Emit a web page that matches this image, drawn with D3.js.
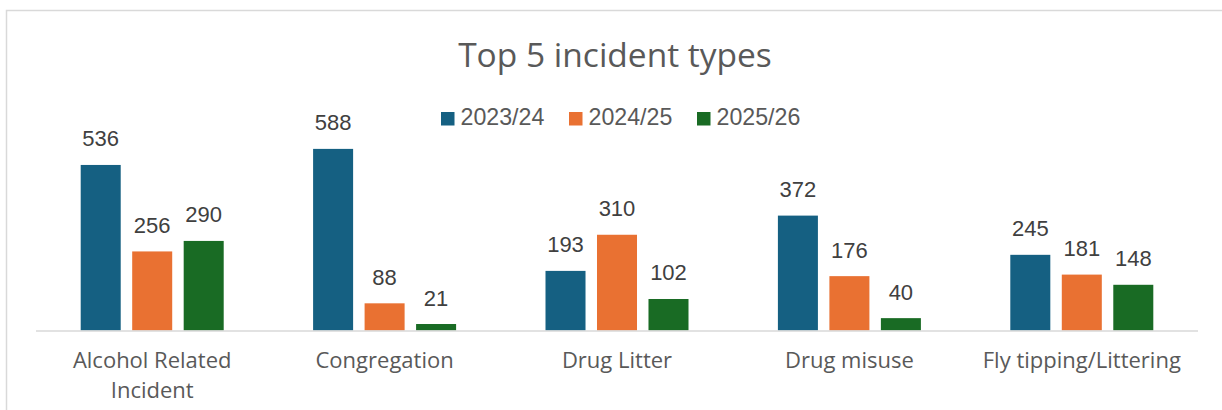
<!DOCTYPE html>
<html>
<head>
<meta charset="utf-8" />
<title>Top 5 incident types</title>
<script src="https://cdn.jsdelivr.net/npm/d3@7"></script>
<style>
  html, body { margin: 0; padding: 0; background: #fff; }
  svg { display: block; }
</style>
</head>
<body>
<svg width="1222" height="410"></svg>
<script>
// data
var categories = ["Alcohol Related Incident", "Congregation", "Drug Litter", "Drug misuse", "Fly tipping/Littering"];
var seriesNames = ["2023/24", "2024/25", "2025/26"];
var v2023 = [536, 588, 193, 372, 245];
var v2024 = [256, 88, 310, 176, 181];
var v2025 = [290, 21, 102, 40, 148];
var seriesValues = [v2023, v2024, v2025];
var colors = ["#156082", "#E97132", "#196B24"];

var svg = d3.select("svg");
var width = +svg.attr("width");
var height = +svg.attr("height");

// chart frame (runs off the right and bottom of the picture)
svg.append("rect")
  .attr("x", 6.5).attr("y", 10.5)
  .attr("width", 1240).attr("height", 420)
  .attr("fill", "#fff")
  .attr("stroke", "#d9d9d9").attr("stroke-width", 1.5);

var plot = {left: 36, right: 1198, top: 114.3, bottom: 330.5};

var x0 = d3.scaleBand()
  .domain(categories)
  .range([plot.left, plot.right]);

var groupPad = 44.7;
var x1 = d3.scaleBand()
  .domain(seriesNames)
  .range([groupPad, x0.bandwidth() - groupPad])
  .paddingInner(0.223);

var y = d3.scaleLinear()
  .domain([0, 700])
  .range([plot.bottom, plot.top]);

// title
svg.append("text")
  .attr("x", 615).attr("y", 66.5)
  .attr("text-anchor", "middle")
  .attr("font-family", "'Open Sans', sans-serif")
  .attr("font-size", 33.5)
  .attr("fill", "#595959")
  .text("Top 5 incident types");

// legend
var legendX = [441, 569, 697];
var lg = svg.append("g").selectAll("g")
  .data(seriesNames)
  .enter().append("g")
  .attr("transform", (d, i) => `translate(${legendX[i]},112)`);
lg.append("rect")
  .attr("width", 13.5).attr("height", 13.5)
  .attr("fill", (d, i) => colors[i]);
lg.append("text")
  .attr("x", 19.5).attr("y", 13.3)
  .attr("font-family", "'Liberation Sans', Arial, sans-serif")
  .attr("font-size", 23.2)
  .attr("fill", "#595959")
  .text(d => d);

// bars
var groups = svg.append("g").selectAll("g")
  .data(categories)
  .enter().append("g")
  .attr("transform", d => `translate(${x0(d)},0)`);

groups.each(function(cat, ci) {
  var g = d3.select(this);
  seriesNames.forEach(function(s, si) {
    var v = seriesValues[si][ci];
    g.append("rect")
      .attr("x", x1(s))
      .attr("y", y(v))
      .attr("width", x1.bandwidth())
      .attr("height", y(0) - y(v))
      .attr("fill", colors[si]);
    g.append("text")
      .attr("x", x1(s) + x1.bandwidth() / 2)
      .attr("y", y(v) - 18.5)
      .attr("text-anchor", "middle")
      .attr("font-family", "'Liberation Sans', Arial, sans-serif")
      .attr("font-size", 22)
      .attr("fill", "#404040")
      .text(v);
  });
});

// x axis line
svg.append("line")
  .attr("x1", plot.left).attr("x2", plot.right)
  .attr("y1", plot.bottom + 0.5).attr("y2", plot.bottom + 0.5)
  .attr("stroke", "#d9d9d9").attr("stroke-width", 1.5);

// category labels (wrapped like the original)
var labelLines = {
  "Alcohol Related Incident": ["Alcohol Related", "Incident"]
};
groups.append("text")
  .attr("text-anchor", "middle")
  .attr("font-family", "'Open Sans', sans-serif")
  .attr("font-size", 22)
  .attr("fill", "#595959")
  .each(function(d) {
    var lines = labelLines[d] || [d];
    var t = d3.select(this);
    lines.forEach(function(line, i) {
      t.append("tspan")
        .attr("x", x0.bandwidth() / 2)
        .attr("y", 368 + i * 29.5)
        .text(line);
    });
  });
</script>
</body>
</html>
